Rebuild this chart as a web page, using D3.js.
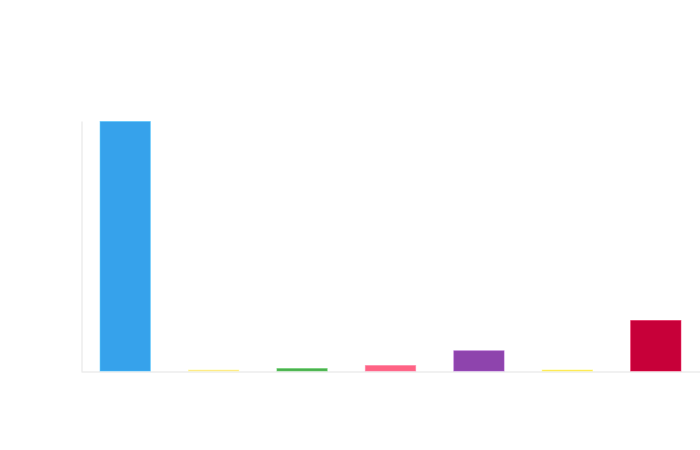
<!DOCTYPE html>
<html>
<head>
<meta charset="utf-8">
<script src="https://cdn.jsdelivr.net/npm/d3@7"></script>
<style>
  html, body { margin: 0; padding: 0; background: #ffffff; }
  svg { display: block; }
</style>
</head>
<body>
<svg id="chart" width="700" height="450"></svg>
<script>
const categories = ["A", "B", "C", "D", "E", "F", "G"];
const values = [100, 0.6, 1.2, 2.4, 8.3, 0.6, 20.4];
const colors = ["#36A2EB", "#FFD77A", "#4CAF50", "#FF6384", "#8E44AD", "#FFD54F", "#C70039"];

const width = 700, height = 450;
const margin = { top: 121, right: 0, bottom: 79, left: 81 };
const svg = d3.select("#chart");

const x = d3.scaleBand()
  .domain(categories)
  .range([margin.left, width - margin.right])
  .paddingInner(0.42)
  .paddingOuter(0.21);

const y = d3.scaleLinear()
  .domain([0, 100])
  .range([height - margin.bottom, margin.top]);

// axes (lines only)
const yAxis = svg.append("g")
  .attr("transform", `translate(${margin.left + 0.5},0)`)
  .call(d3.axisLeft(y).tickValues([]).tickSizeOuter(0));
yAxis.select(".domain").attr("stroke", "#e3e3e3");

const xAxis = svg.append("g")
  .attr("transform", `translate(0,${height - margin.bottom + 0.5})`)
  .call(d3.axisBottom(x).tickValues([]).tickSizeOuter(0));
xAxis.select(".domain").attr("stroke", "#e3e3e3");

svg.append("g")
  .selectAll("rect")
  .data(categories)
  .join("rect")
  .attr("x", d => x(d) + 0.5)
  .attr("width", x.bandwidth() - 1)
  .attr("y", (d, i) => y(values[i]) + 0.5)
  .attr("height", (d, i) => Math.max(0, y(0) - y(values[i]) - 0.5))
  .attr("fill", (d, i) => colors[i])
  .attr("stroke", (d, i) => d3.color(colors[i]).brighter(0.5))
  .attr("stroke-opacity", 0.5)
  .attr("stroke-width", 1);
</script>
</body>
</html>
